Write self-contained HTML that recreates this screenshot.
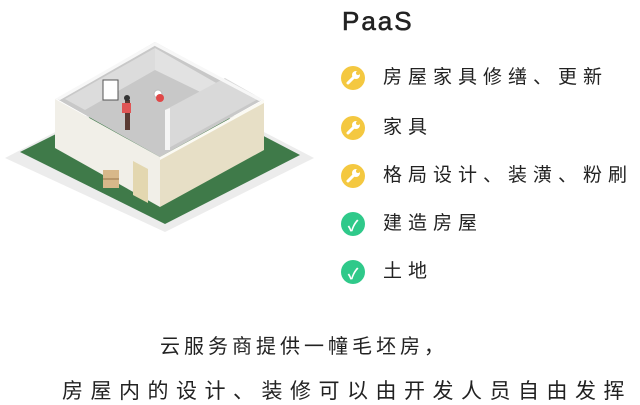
<!DOCTYPE html>
<html><head><meta charset="utf-8"><style>
body{margin:0;width:640px;height:402px;background:#fff;position:relative;overflow:hidden;font-family:"Liberation Sans","Noto Sans CJK SC",sans-serif;color:#222}
.t{position:absolute;white-space:nowrap}
.item{position:absolute;left:383px;font-size:19px;letter-spacing:6px;line-height:24px}
.ic{position:absolute;left:341px;width:24px;height:24px;border-radius:50%}
.y{background:#f4c840}.g{background:#2fc98a}
.ic span{position:absolute;color:#fff;font-size:15px;font-weight:bold;left:0;right:0;text-align:center;top:3px}
</style></head><body>
<svg width="320" height="240" style="position:absolute;left:0;top:0">
<polygon points="5,158 160,78 314,158 165,232" fill="#ececec"/>
<polygon points="20,152 160,82 300,155 165,224" fill="#3f7a49"/>
<polygon points="57,99 155,42 262,100 160,157" fill="#c8c8c8"/>
<polygon points="65,99 155,48 155,70 85,110" fill="#dcdcdc"/>
<polygon points="155,48 225,88 225,104 155,70" fill="#e2e2e2"/>
<polygon points="165,110 225,78 260,98 165,150" fill="#d9d9d9"/>
<polygon points="165,110 170,108 170,150 165,150" fill="#f5f5f5"/>
<polygon points="55,99 155,42 158,44 60,100" fill="#f7f7f7"/>
<polygon points="155,42 264,100 259,101 155,46" fill="#f7f7f7"/>
<polygon points="55,99 160,157 160,207 55,148" fill="#f1efe8"/>
<polygon points="160,157 264,100 264,150 160,207" fill="#e7dfc6"/>
<polygon points="160,157 264,100 264,103 160,160" fill="#fbfaf4"/>
<polygon points="133,161 148,169 148,203 133,195" fill="#e3d7b0"/>
<rect x="103" y="170" width="16" height="18" fill="#d8b88a"/>
<rect x="103" y="178" width="16" height="2" fill="#b8966a"/>
<rect x="103" y="80" width="15" height="20" fill="#fff" stroke="#555" stroke-width="1"/>
<rect x="125" y="100" width="5" height="30" fill="#5a3a32"/>
<rect x="122" y="103" width="9" height="10" fill="#e05555"/>
<circle cx="127" cy="98" r="3" fill="#333"/>
<circle cx="158" cy="94" r="4" fill="#fff" stroke="#bbb"/>
<circle cx="160" cy="98" r="4" fill="#e04848"/>
</svg>
<div class="t" style="left:342px;top:6px;font-size:26px;letter-spacing:2px;-webkit-text-stroke:0.6px #222">PaaS</div>
<svg width="0" height="0" style="position:absolute"><defs><g id="w"><line x1="7" y1="17" x2="14" y2="10" stroke="#fff" stroke-width="3" stroke-linecap="round"/><circle cx="15" cy="9" r="4" fill="#fff"/><circle cx="17" cy="7" r="2" fill="#f4c840"/></g></defs></svg>
<svg class="ic y" style="top:66px" width="24" height="24"><use href="#w"/></svg><div class="item" style="top:66px">房屋家具修缮、更新</div>
<svg class="ic y" style="top:116px" width="24" height="24"><use href="#w"/></svg><div class="item" style="top:116px">家具</div>
<svg class="ic y" style="top:164px" width="24" height="24"><use href="#w"/></svg><div class="item" style="top:164px">格局设计、装潢、粉刷</div>
<div class="ic g" style="top:212px"><span>✓</span></div><div class="item" style="top:212px">建造房屋</div>
<div class="ic g" style="top:260px"><span>✓</span></div><div class="item" style="top:260px">土地</div>
<div class="t" style="left:160px;top:330px;font-size:20px;letter-spacing:4px">云服务商提供一幢毛坯房，</div>
<div class="t" style="left:62px;top:375px;font-size:21px;letter-spacing:7.5px">房屋内的设计、装修可以由开发人员自由发挥</div>
</body></html>
